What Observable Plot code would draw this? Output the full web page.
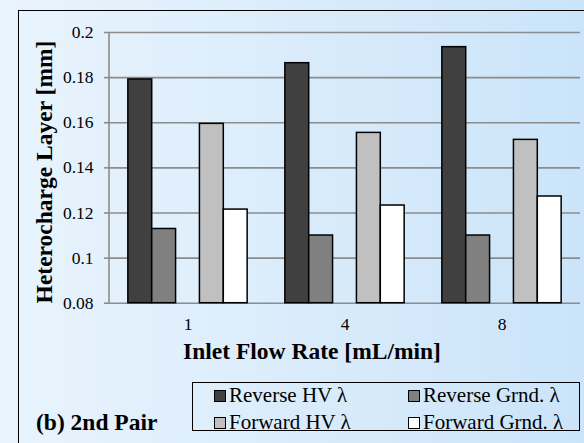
<!DOCTYPE html>
<html><head><meta charset="utf-8">
<script src="https://cdn.jsdelivr.net/npm/d3@7"></script>
<script src="https://cdn.jsdelivr.net/npm/@observablehq/plot@0.6"></script>
<style>
html,body{margin:0;padding:0;}
#chart{position:relative;width:584px;height:443px;overflow:hidden;background:linear-gradient(to right,#e9f4fd,#cbe4f9);font-family:"Times New Roman",serif;color:#000;}
#frame{position:absolute;left:18px;top:10px;width:620px;height:520px;border:1.5px solid #000;box-sizing:border-box;}
#plotwrap{position:absolute;left:0;top:0;}
#plotwrap svg, #plotwrap svg text{font-family:"Times New Roman",serif !important;font-size:14px !important;font-variant:normal !important;}
.lbl{position:absolute;white-space:nowrap;line-height:1;font-weight:bold;font-size:23.5px;}
#ylabel{left:45px;top:172px;transform:translate(-50%,-50%) rotate(-90deg);}
#xlabel{left:312px;top:352px;transform:translate(-50%,-50%);}
#panel{left:36px;top:423px;transform:translate(0,-50%);}
#legend{position:absolute;left:192px;top:382px;width:388px;height:49px;border:1.5px solid #000;box-sizing:border-box;}
.sw{position:absolute;width:12px;height:12px;border:1px solid #000;box-sizing:border-box;transform:translate(0,-50%);}
.lt{position:absolute;white-space:nowrap;font-size:14px;line-height:1;transform-origin:left center;transform:translate(0,-50%) scale(1.5);}
</style></head>
<body><div id="chart"><div id="frame"></div><div id="plotwrap"></div>
<div id="ylabel" class="lbl"></div><div id="xlabel" class="lbl"></div><div id="panel" class="lbl"></div>
<div id="legend"></div></div>
<script>
const categories = ["1", "4", "8"];
const seriesNames = ["Reverse HV λ", "Reverse Grnd. λ", "Forward HV λ", "Forward Grnd. λ"];
const seriesColors = ["#404040", "#808080", "#c0c0c0", "#ffffff"];
const reverseHV = [0.1792, 0.1864, 0.1935];
const reverseGrnd = [0.1129, 0.1100, 0.1100];
const forwardHV = [0.1595, 0.1555, 0.1524];
const forwardGrnd = [0.1215, 0.1233, 0.1273];
const yTicks = [0.08, 0.10, 0.12, 0.14, 0.16, 0.18, 0.20];
const xTitle = "Inlet Flow Rate [mL/min]";
const yTitle = "Heterocharge Layer [mm]";
const panelTitle = "(b) 2nd Pair";

const GAP = " ";
const seriesValues = [reverseHV, reverseGrnd, forwardHV, forwardGrnd];
const rows = [];
categories.forEach((c, i) => seriesNames.forEach((s, j) => rows.push({cat: c, series: s, value: seriesValues[j][i]})));

const plot = Plot.plot({
  width: 584, height: 443,
  marginLeft: 108, marginRight: 3, marginTop: 32, marginBottom: 140.3,
  style: {background: "transparent", fontFamily: "Times New Roman, serif", fontSize: "14px", color: "#000", overflow: "visible"},
  fx: {domain: categories, padding: 0, label: null},
  x: {domain: [seriesNames[0], seriesNames[1], GAP, seriesNames[2], seriesNames[3]], paddingInner: 0, paddingOuter: 0.79, round: false, axis: null},
  y: {domain: [0.08, 0.2], label: null},
  color: {domain: seriesNames, range: seriesColors},
  marks: [
    Plot.ruleY(yTicks, {stroke: "#8c8c8c", strokeWidth: 1.6}),
    Plot.barY(rows, {fx: "cat", x: "series", y1: 0.08, y2: "value", fill: "series", stroke: "#000", strokeWidth: 1.5}),
    Plot.axisY(yTicks, {tickSize: 5, tickPadding: 11, stroke: "#8c8c8c", strokeWidth: 1.6, fill: "#000", tickFormat: d => String(+d.toFixed(2)), label: null}),
    Plot.axisFx({anchor: "bottom", tickSize: 0, tickPadding: 16, label: null, fill: "#000"})
  ]
});
document.getElementById("plotwrap").appendChild(plot);

// y axis line drawn from the library's scales
const fx = plot.scale("fx"), y = plot.scale("y");
const x0 = fx.apply(categories[0]);
d3.select(plot).append("line")
  .attr("x1", x0).attr("x2", x0)
  .attr("y1", y.apply(0.2)).attr("y2", y.apply(0.08))
  .attr("stroke", "#8c8c8c").attr("stroke-width", 1.6);

// enlarge tick labels (font chosen at 14px, drawn at 17.5px)
const S = 1.25;
plot.querySelectorAll("text").forEach(t => {
  const b = t.getBBox();
  let anchor = "middle";
  for (let n = t; n && n !== plot; n = n.parentNode) {
    const a = n.getAttribute && n.getAttribute("text-anchor");
    if (a) { anchor = a; break; }
  }
  const ax = anchor === "end" ? b.x + b.width : anchor === "start" ? b.x : b.x + b.width / 2;
  const ay = b.y + b.height / 2;
  const prev = t.getAttribute("transform") || "";
  t.setAttribute("transform", `${prev} translate(${ax},${ay}) scale(${S}) translate(${-ax},${-ay})`);
});

document.getElementById("ylabel").textContent = yTitle;
document.getElementById("xlabel").textContent = xTitle;
document.getElementById("panel").textContent = panelTitle;

const legend = document.getElementById("legend");
const pos = [[21, 13], [215, 13], [21, 39.7], [215, 39.7]];
seriesNames.forEach((s, i) => {
  const sw = document.createElement("div");
  sw.className = "sw";
  sw.style.left = pos[i][0] + "px";
  sw.style.top = pos[i][1] + "px";
  sw.style.background = seriesColors[i];
  legend.appendChild(sw);
  const t = document.createElement("div");
  t.className = "lt";
  t.style.left = (pos[i][0] + 15) + "px";
  t.style.top = pos[i][1] + "px";
  t.textContent = s;
  legend.appendChild(t);
});
</script>
</body></html>
